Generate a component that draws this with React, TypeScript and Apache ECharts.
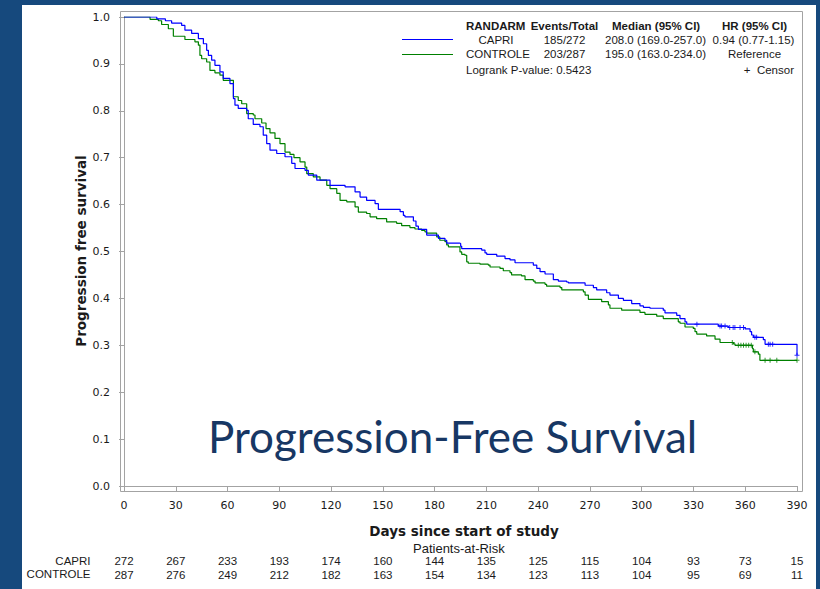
import React, { useEffect, useRef } from "react";
import * as echarts from "echarts";

// ---------- data ----------
const xTickDays = [0, 30, 60, 90, 120, 150, 180, 210, 240, 270, 300, 330, 360, 390];
const capriRisk = [272, 267, 233, 193, 174, 160, 144, 135, 125, 115, 104, 93, 73, 15];
const controleRisk = [287, 276, 249, 212, 182, 163, 154, 134, 123, 113, 104, 95, 69, 11];

const capriSteps: [number, number][] = [
  [0, 1], [19, 0.996], [24, 0.992], [27.6, 0.987], [33.4, 0.982], [35.3, 0.972], [39.2, 0.965],
  [43.1, 0.954], [46, 0.943], [47.9, 0.929], [48.9, 0.918], [50.8, 0.908], [52.7, 0.897],
  [55.6, 0.883], [57.5, 0.869], [61.4, 0.858], [63.4, 0.826], [64.3, 0.812], [66.2, 0.805],
  [71.1, 0.801], [72, 0.783], [74.9, 0.771], [78.8, 0.766], [80.7, 0.748], [82.7, 0.73],
  [84.6, 0.716], [88.5, 0.709], [93.3, 0.702], [97.2, 0.688], [99.1, 0.677], [104.9, 0.673],
  [106.8, 0.663], [111.7, 0.652], [119.4, 0.641], [128.1, 0.638], [133.9, 0.627], [136.8, 0.616],
  [140.6, 0.609], [145.5, 0.602], [147.4, 0.59], [160, 0.585], [161.9, 0.577], [162.8, 0.574],
  [167.7, 0.565], [169.2, 0.554], [170.6, 0.547], [175.4, 0.535], [182.2, 0.528], [186, 0.524],
  [187, 0.518], [194.4, 0.517], [195.1, 0.511], [195.7, 0.506], [207.3, 0.503], [209.2, 0.497],
  [210.2, 0.494], [216, 0.49], [220.8, 0.485], [223.7, 0.482], [226.6, 0.476], [237.2, 0.471],
  [239.2, 0.464], [241.1, 0.457], [244, 0.452], [248.8, 0.44], [251.7, 0.437], [256.5, 0.435],
  [257.5, 0.433], [267.2, 0.428], [272, 0.423], [273.9, 0.418], [279.7, 0.412], [281.6, 0.407],
  [286.5, 0.4], [289.4, 0.396], [294.2, 0.389], [299, 0.384], [301, 0.381], [304.8, 0.379],
  [312.5, 0.375], [313.5, 0.369], [320.3, 0.364], [322.2, 0.357], [325.1, 0.35], [326.1, 0.345],
  [344.4, 0.341], [350.2, 0.338], [359.9, 0.335], [362.8, 0.329], [363.7, 0.322], [364.7, 0.317],
  [370.5, 0.312], [371.5, 0.302], [390, 0.279],
];

const controleSteps: [number, number][] = [
  [0, 1], [15.1, 0.995], [19.9, 0.992], [21.8, 0.984], [25.7, 0.975], [28.6, 0.959], [35.3, 0.952],
  [41.1, 0.947], [43.1, 0.94], [44, 0.918], [45, 0.911], [47.9, 0.904], [49.8, 0.886], [52.7, 0.881],
  [55.6, 0.876], [57.5, 0.865], [63.4, 0.83], [66.2, 0.822], [68.2, 0.815], [71.1, 0.794],
  [74.9, 0.791], [75.9, 0.783], [79.8, 0.774], [82.3, 0.762], [84.6, 0.753], [87.5, 0.741],
  [90.4, 0.73], [93.3, 0.712], [96.2, 0.707], [98.5, 0.7], [102, 0.691], [104.9, 0.68],
  [105.9, 0.666], [109.7, 0.659], [113.6, 0.652], [117.5, 0.641], [119.4, 0.634], [123.3, 0.624],
  [125.2, 0.609], [129.1, 0.606], [133.9, 0.595], [135.8, 0.584], [140.6, 0.581], [142.6, 0.574],
  [146.4, 0.57], [152.2, 0.563], [158, 0.56], [160.9, 0.555], [165.7, 0.551], [168.6, 0.548],
  [172.5, 0.545], [174.4, 0.542], [175.4, 0.539], [181.2, 0.531], [183, 0.524], [186, 0.521],
  [187, 0.514], [188, 0.51], [194.7, 0.499], [195.7, 0.494], [197.6, 0.492], [198.6, 0.478],
  [199.5, 0.475], [206.3, 0.473], [211.1, 0.471], [212.1, 0.467], [217.9, 0.464], [219.8, 0.459],
  [223.7, 0.455], [224.6, 0.45], [230.4, 0.448], [232.4, 0.44], [237.2, 0.437], [238.2, 0.433],
  [244, 0.43], [244.9, 0.426], [252.7, 0.423], [253.7, 0.418], [266.2, 0.414], [267.2, 0.407],
  [269.1, 0.398], [276.8, 0.393], [280.7, 0.386], [281.6, 0.379], [288.4, 0.375], [299, 0.37],
  [301.9, 0.366], [308.7, 0.362], [312.5, 0.357], [321.2, 0.35], [322.2, 0.347], [325.1, 0.339],
  [329.9, 0.336], [330.9, 0.329], [331.9, 0.324], [337.6, 0.32], [342.5, 0.313], [345.4, 0.306],
  [353.1, 0.303], [354.1, 0.3], [364.2, 0.293], [364.7, 0.286], [367.6, 0.281], [368.5, 0.268],
  [390, 0.268],
];

const capriCensor: [number, number][] = [
  [332, 0.345], [345.4, 0.341], [346.3, 0.341], [348.3, 0.341], [351, 0.338], [353, 0.338],
  [354, 0.338], [357, 0.338], [359, 0.338], [365.6, 0.317], [366.6, 0.317], [373.4, 0.302],
  [374.4, 0.302], [375.9, 0.302], [390, 0.279],
];
const controleCensor: [number, number][] = [
  [352.5, 0.306], [356, 0.3], [357.5, 0.3], [359, 0.3], [360.5, 0.3], [362, 0.3], [363.5, 0.3],
  [365.6, 0.286], [371.5, 0.268], [374.4, 0.268], [378.3, 0.268], [390, 0.268],
];

const legendHeader = ["RANDARM", "Events/Total", "Median (95% CI)", "HR (95% CI)"];
const legendCapri = ["CAPRI", "185/272", "208.0 (169.0-257.0)", "0.94 (0.77-1.15)"];
const legendControle = ["CONTROLE", "203/287", "195.0 (163.0-234.0)", "Reference"];
const logrankText = "Logrank P-value: 0.5423";

const BLUE = "#0000FF";
const GREEN = "#008000";
const AXIS = "#A3A3A3";
const TXT = "#1a1a1a";
const SANS = "'Liberation Sans', Arial, sans-serif";
const DEJAVU = "'DejaVu Sans', sans-serif";

const plusPath = "path://M4,0H6V4H10V6H6V10H4V6H0V4H4Z";

export default function App() {
  const ref = useRef<HTMLDivElement>(null);

  useEffect(() => {
    document.body.style.margin = "0";
    if (!ref.current) return;
    const chart = echarts.init(ref.current, null, { renderer: "svg" });

    const riskAxis = (offset: number, values: number[]) => ({
      type: "value",
      min: 0,
      max: 390,
      interval: 30,
      position: "bottom",
      offset,
      axisLine: { show: false },
      axisTick: { show: false },
      splitLine: { show: false },
      axisLabel: {
        margin: 0,
        fontFamily: SANS,
        fontSize: 11.5,
        color: TXT,
        showMinLabel: true,
        showMaxLabel: true,
        formatter: (v: number) => {
          const i = xTickDays.indexOf(Math.round(v));
          return i >= 0 ? String(values[i]) : "";
        },
      },
    });

    const tText = (text: string, x: number, y: number, align: string, bold = false, size = 11.5, family = SANS) => ({
      type: "text",
      x,
      y,
      style: {
        text,
        fill: TXT,
        font: `${bold ? "bold " : ""}${size}px ${family}`,
        textAlign: align,
        textVerticalAlign: "middle",
      },
    });

    const colX = [466, 530.7, 612, 722];
    const centers = [496, 564.5, 655.5, 753.5];

    chart.setOption({
      animation: false,
      backgroundColor: "transparent",
      grid: { left: 124, right: 23, top: 17, bottom: 103, containLabel: false },
      xAxis: [
        {
          type: "value",
          min: 0,
          max: 390,
          interval: 30,
          offset: 5,
          axisLine: { show: true, lineStyle: { color: AXIS, width: 1 } },
          axisTick: { show: true, length: 5, lineStyle: { color: AXIS } },
          splitLine: { show: false },
          axisLabel: {
            margin: 9,
            fontFamily: DEJAVU,
            fontSize: 11,
            color: TXT,
            showMinLabel: true,
            showMaxLabel: true,
          },
        },
        riskAxis(69, capriRisk),
        riskAxis(82.5, controleRisk),
      ],
      yAxis: {
        type: "value",
        min: 0,
        max: 1,
        interval: 0.1,
        offset: 4,
        axisLine: { show: true, lineStyle: { color: AXIS, width: 1 } },
        axisTick: { show: true, length: 5, lineStyle: { color: AXIS } },
        splitLine: { show: false },
        axisLabel: {
          margin: 10,
          fontFamily: DEJAVU,
          fontSize: 11,
          color: TXT,
          formatter: (v: number) => v.toFixed(1),
        },
      },
      series: [
        {
          name: "CAPRI",
          type: "line",
          step: "end",
          data: capriSteps,
          showSymbol: false,
          lineStyle: { color: BLUE, width: 1.2 },
          itemStyle: { color: BLUE },
          z: 3,
        },
        {
          name: "CONTROLE",
          type: "line",
          step: "end",
          data: controleSteps,
          showSymbol: false,
          lineStyle: { color: GREEN, width: 1.2 },
          itemStyle: { color: GREEN },
          z: 2,
        },
        {
          type: "scatter",
          data: capriCensor,
          symbol: plusPath,
          symbolSize: 5,
          itemStyle: { color: BLUE },
          z: 4,
        },
        {
          type: "scatter",
          data: controleCensor,
          symbol: plusPath,
          symbolSize: 5,
          itemStyle: { color: GREEN },
          z: 4,
        },
      ],
      graphic: [
        {
          type: "rect",
          shape: { x: 120.5, y: 11.5, width: 682, height: 480 },
          style: { fill: "none", stroke: AXIS, lineWidth: 1 },
          silent: true,
        },
        // legend table
        ...legendHeader.map((t, i) => tText(t, colX[i], 26, "left", true)),
        tText(legendCapri[0], centers[0], 39.5, "center"),
        ...legendCapri.slice(1).map((t, i) => tText(t, centers[i + 1], 39.5, "center")),
        tText(legendControle[0], 466, 54, "left"),
        ...legendControle.slice(1).map((t, i) => tText(t, centers[i + 1] + (i === 2 ? 1 : 0), 54, "center")),
        tText(logrankText, 466, 70, "left"),
        tText("+  Censor", 794, 70, "right"),
        {
          type: "line",
          shape: { x1: 402, y1: 39.5, x2: 453, y2: 39.5 },
          style: { stroke: BLUE, lineWidth: 1 },
        },
        {
          type: "line",
          shape: { x1: 402, y1: 54.5, x2: 453, y2: 54.5 },
          style: { stroke: GREEN, lineWidth: 1 },
        },
        // axis titles
        {
          type: "text",
          x: 81,
          y: 251,
          rotation: Math.PI / 2,
          style: {
            text: "Progression free survival",
            fill: TXT,
            font: `bold 13.5px ${DEJAVU}`,
            textAlign: "center",
            textVerticalAlign: "middle",
          },
        },
        tText("Days since start of study", 464, 530.5, "center", true, 13.5, DEJAVU),
        tText("Patients-at-Risk", 413, 548, "left", false, 13),
        tText("CAPRI", 90.5, 560.7, "right"),
        tText("CONTROLE", 90.5, 574.3, "right"),
        // overlay title
        {
          type: "text",
          x: 208,
          y: 436,
          style: {
            text: "Progression-Free Survival",
            fill: "#173764",
            font: "44px Lato, 'Open Sans', sans-serif",
            textAlign: "left",
            textVerticalAlign: "middle",
          },
        },
      ],
    });

    return () => chart.dispose();
  }, []);

  return (
    <div style={{ position: "absolute", left: 0, top: 0, width: 820, height: 589, background: "#16497D", overflow: "hidden" }}>
      <div style={{ position: "absolute", left: 22, top: 5, width: 794, height: 584, background: "#FFFFFF" }} />
      <div ref={ref} style={{ position: "absolute", left: 0, top: 0, width: 820, height: 589 }} />
    </div>
  );
}
